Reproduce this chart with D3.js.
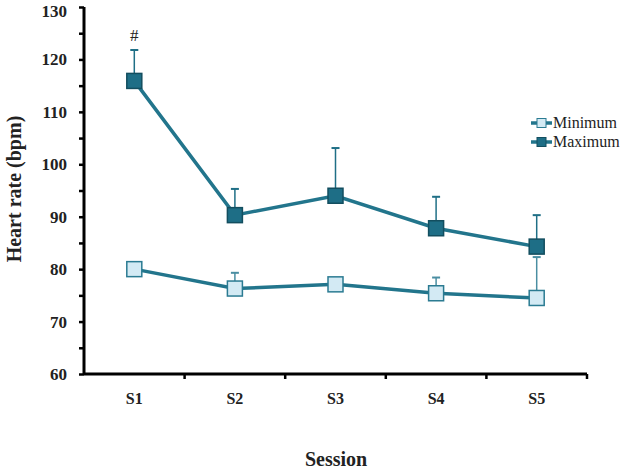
<!DOCTYPE html>
<html><head><meta charset="utf-8">
<script src="https://cdn.jsdelivr.net/npm/d3@7"></script>
<style>body{margin:0;background:#fff}svg{display:block}</style>
</head><body>
<svg id="c" width="630" height="470"></svg>
<script>
const sessions = ["S1","S2","S3","S4","S5"];
const minimum = [80.0, 76.3, 77.1, 75.4, 74.5];
const minimumErr = [0, 3.0, 0, 3.0, 7.8];
const maximum = [115.9, 90.3, 94.0, 87.8, 84.3];
const maximumErr = [5.9, 5.0, 9.1, 6.0, 6.0];
const yTicks = [60,70,80,90,100,110,120,130];
const seriesNames = ["Minimum","Maximum"];

const svg = d3.select("#c");
const x = d3.scaleBand().domain(sessions).range([84, 587]);
const y = d3.scaleLinear().domain([60,130]).range([374, 7]);
const serif = "'Liberation Serif', 'Times New Roman', serif";
const lineCol = "#22758c";

// axes
const ya = svg.append("g").attr("transform","translate(84,0)")
  .call(d3.axisLeft(y).tickValues(d3.range(60,131,5)).tickSize(5).tickFormat(d => yTicks.includes(d) ? d : ""));
ya.select(".domain").attr("stroke","#000").attr("stroke-width",3).attr("d","M0,374V7");
ya.selectAll(".tick line").attr("stroke","#000").attr("stroke-width",2.5);
ya.selectAll(".tick text").style("font-family",serif).attr("font-weight","bold").attr("font-size",17).attr("fill","#222").attr("x",-17)
  .attr("y", d => d === 130 ? 4 : 0);

const xa = svg.append("g").attr("transform","translate(0,374)")
  .call(d3.axisBottom(x).tickSize(0).tickFormat(d=>d));
xa.select(".domain").attr("stroke","#000").attr("stroke-width",3).attr("d","M84,0H587");
xa.selectAll(".tick text").style("font-family",serif).attr("font-weight","bold").attr("font-size",16).attr("fill","#222").attr("dy",0).attr("y",30);
svg.append("g").selectAll("line").data(sessions.slice(1).concat(["end"])).join("line")
  .attr("x1",(d,i)=> i<4 ? x(d) : 587).attr("x2",(d,i)=> i<4 ? x(d) : 587)
  .attr("y1",374).attr("y2",379).attr("stroke","#000").attr("stroke-width",2.5);

// axis titles
svg.append("text").attr("transform","translate(21,189) rotate(-90)").attr("text-anchor","middle")
  .style("font-family",serif).attr("font-weight","bold").attr("font-size",20).attr("fill","#222").text("Heart rate (bpm)");
svg.append("text").attr("x",336).attr("y",466).attr("text-anchor","middle")
  .style("font-family",serif).attr("font-weight","bold").attr("font-size",20).attr("fill","#222").text("Session");

const cx = d => x(d) + x.bandwidth()/2;
const line = d3.line().x(d=>cx(d.s)).y(d=>y(d.v));

function drawSeries(vals, errs, fill, stroke, errCol){
  const data = sessions.map((s,i)=>({s, v: vals[i], e: errs[i]}));
  svg.append("path").datum(data).attr("d",line).attr("fill","none").attr("stroke",lineCol).attr("stroke-width",3.5);
  const eb = svg.append("g").selectAll("g").data(data.filter(d=>d.e>0)).join("g");
  eb.append("line").attr("x1",d=>cx(d.s)).attr("x2",d=>cx(d.s)).attr("y1",d=>y(d.v)).attr("y2",d=>y(d.v+d.e)).attr("stroke",errCol).attr("stroke-width",1.5);
  eb.append("line").attr("x1",d=>cx(d.s)-4).attr("x2",d=>cx(d.s)+4).attr("y1",d=>y(d.v+d.e)).attr("y2",d=>y(d.v+d.e)).attr("stroke",errCol).attr("stroke-width",2);
  svg.append("g").selectAll("rect").data(data).join("rect")
    .attr("x",d=>cx(d.s)-7.5).attr("y",d=>y(d.v)-7.5).attr("width",15).attr("height",15)
    .attr("fill",fill).attr("stroke",stroke).attr("stroke-width",1.5);
}
drawSeries(minimum, minimumErr, "#d3eaf4", "#2b7b92", "#4a8ea2");
drawSeries(maximum, maximumErr, "#1e6e86", "#134e5f", "#1f6f86");

// significance mark
svg.append("text").attr("x",cx("S1")).attr("y",y(maximum[0]+maximumErr[0])-9).attr("text-anchor","middle")
  .style("font-family",serif).attr("font-size",17).attr("fill","#222").text("#");

// legend
const legFill = ["#d3eaf4","#1e6e86"], legStroke=["#2b7b92","#134e5f"];
const lg = svg.append("g").selectAll("g").data(seriesNames).join("g").attr("transform",(d,i)=>`translate(531,${123+i*19})`);
lg.append("line").attr("x1",0).attr("x2",21).attr("y1",0).attr("y2",0).attr("stroke",lineCol).attr("stroke-width",3.5);
lg.append("rect").attr("x",6).attr("y",-4.5).attr("width",9).attr("height",9).attr("fill",(d,i)=>legFill[i]).attr("stroke",(d,i)=>legStroke[i]).attr("stroke-width",1);
lg.append("text").attr("x",22).attr("y",5).style("font-family",serif).attr("font-size",16).attr("fill","#222").text(d=>d);
</script>
</body></html>
